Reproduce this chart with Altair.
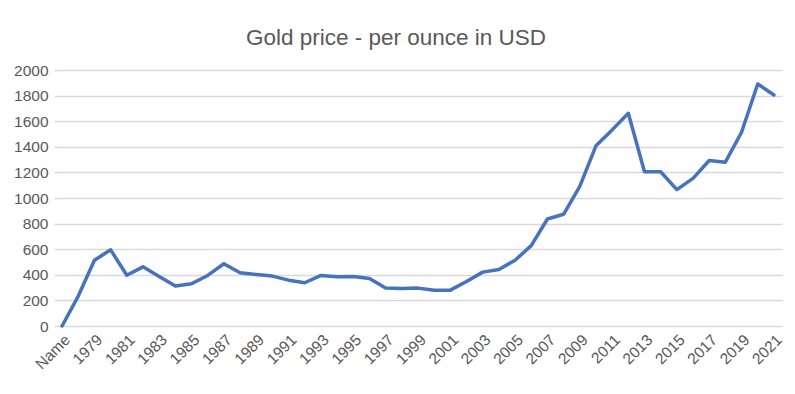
import altair as alt
import pandas as pd

categories = ["Name", "1978", "1979", "1980", "1981", "1982", "1983", "1984", "1985",
              "1986", "1987", "1988", "1989", "1990", "1991", "1992", "1993", "1994",
              "1995", "1996", "1997", "1998", "1999", "2000", "2001", "2002", "2003",
              "2004", "2005", "2006", "2007", "2008", "2009", "2010", "2011", "2012",
              "2013", "2014", "2015", "2016", "2017", "2018", "2019", "2020", "2021"]
prices = [0, 234, 514, 595, 397, 462, 387, 312, 330, 395, 486, 416, 403, 390, 358,
          338, 395, 384, 387, 371, 296, 293, 296, 280, 280, 348, 421, 441, 514, 628,
          836, 873, 1091, 1408, 1532, 1662, 1205, 1205, 1065, 1153, 1293, 1280, 1514,
          1891, 1805]
x_labels = categories[0::2]
y_ticks = [0, 200, 400, 600, 800, 1000, 1200, 1400, 1600, 1800, 2000]

df = pd.DataFrame({"cat": categories, "price": prices})

text_color = "#595959"
grid_color = "#d9d9d9"
font = "Liberation Sans"

chart = alt.Chart(df).mark_line(
    color="#4472C4", strokeWidth=3.5, strokeJoin="round", strokeCap="round"
).encode(
    x=alt.X("cat:N", sort=categories,
            scale=alt.Scale(type="point", padding=0.5),
            axis=alt.Axis(values=x_labels, labelAngle=-45, title=None, ticks=False,
                          grid=False, domain=False, labelFont=font, labelFontSize=15.5,
                          labelColor=text_color, labelPadding=6)),
    y=alt.Y("price:Q", scale=alt.Scale(domain=[0, 2000], nice=False),
            axis=alt.Axis(values=y_ticks, title=None, ticks=False, domain=False,
                          format="d",
                          grid=True, gridColor=grid_color, gridWidth=1.3,
                          labelFont=font, labelFontSize=15.5, labelColor=text_color,
                          labelPadding=6)),
).properties(
    width=728,
    height=256,
    title=alt.TitleParams("Gold price - per ounce in USD", font=font, fontSize=22.5,
                          fontWeight="normal", color=text_color, anchor="middle",
                          dx=-22, offset=14),
    autosize=alt.AutoSizeParams(type="none"),
    padding={"left": 46, "top": 62, "right": 5, "bottom": 60},
).configure_view(stroke=None)

chart.save("out.html", embed_options={"renderer": "svg", "actions": False})
